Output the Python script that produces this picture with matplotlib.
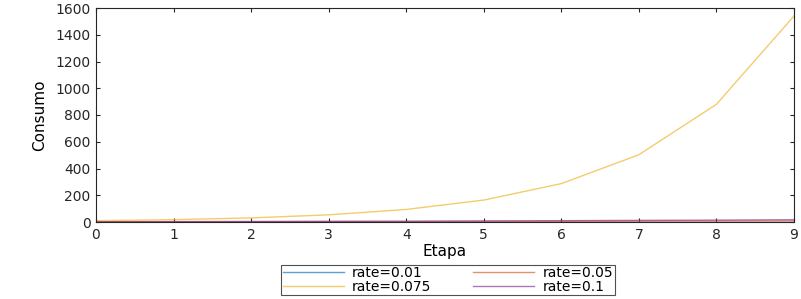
import numpy as np
import matplotlib
matplotlib.use("Agg")
import matplotlib.pyplot as plt

# consumption per stage for each rate
etapa = [0, 1, 2, 3, 4, 5, 6, 7, 8, 9]
consumo_001 = [1, 1, 1, 1, 1, 1, 1, 1, 1, 1]
consumo_005 = [1, 2, 2, 3, 3, 4, 5, 6, 7, 8]
consumo_0075 = [10, 17.5, 30.6, 53.6, 93.8, 164, 287, 503, 880, 1540]
consumo_01 = [2, 3, 4, 5, 6, 8, 10, 12, 14, 17]
labels = ["rate=0.01", "rate=0.05", "rate=0.075", "rate=0.1"]

colors = ["#0072bd", "#d95319", "#edb120", "#7e2f8e"]

fig = plt.figure(figsize=(8.01, 2.99), dpi=100)
ax = fig.add_axes([96 / 801, 1 - 222 / 299, (794 - 96) / 801, (222 - 8) / 299])

lines = []
for ys, c, lab in zip([consumo_001, consumo_005, consumo_0075, consumo_01], colors, labels):
    ln, = ax.plot(etapa, ys, color=c, lw=1.0, alpha=0.65, label=lab)
    lines.append(ln)

ax.set_xlim(0, 9)
ax.set_ylim(0, 1600)
ax.set_xticks(range(0, 10))
ax.set_yticks(range(0, 1601, 200))
ax.tick_params(direction="in", length=3, top=True, right=True, labelsize=10,
               colors="#262626", pad=4)
for s in ax.spines.values():
    s.set_color("#262626")
    s.set_linewidth(0.8)

ax.set_xlabel("Etapa", fontsize=11, labelpad=2)
ax.set_ylabel("Consumo", fontsize=11, labelpad=6)

# matlab fills legend row by row
order = [0, 2, 1, 3]
leg = fig.legend([lines[i] for i in order], [labels[i] for i in order],
                 loc="center", bbox_to_anchor=(448 / 801, 1 - 280 / 299), ncol=2,
                 fontsize=10, frameon=True, fancybox=False, handlelength=4.4,
                 borderpad=0.1, labelspacing=-0.05, columnspacing=3.0, handletextpad=0.6)
leg.get_frame().set_edgecolor("#262626")
leg.get_frame().set_linewidth(0.8)

fig.savefig("out.png", dpi=100)
